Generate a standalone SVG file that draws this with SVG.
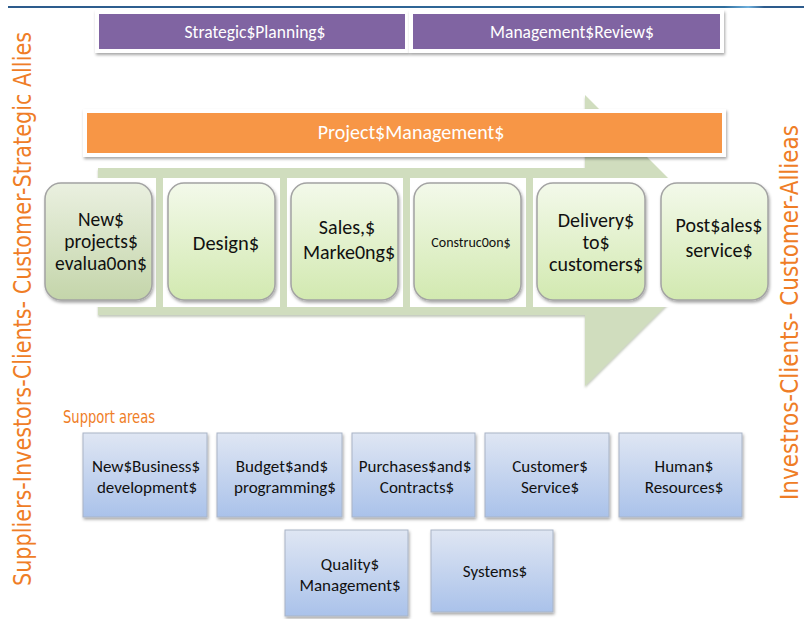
<svg xmlns="http://www.w3.org/2000/svg" width="804" height="619" viewBox="0 0 804 619">
  <defs>
    <filter id="shadow" x="-10%" y="-10%" width="120%" height="130%">
      <feDropShadow dx="1" dy="2" stdDeviation="1.5" flood-color="#000" flood-opacity="0.35"/>
    </filter>
    <filter id="softShadow" x="-5%" y="-5%" width="110%" height="115%">
      <feDropShadow dx="0" dy="2" stdDeviation="1.2" flood-color="#7a8a6a" flood-opacity="0.45"/>
    </filter>
    <linearGradient id="gStage" x1="0" y1="0" x2="0" y2="1">
      <stop offset="0" stop-color="#f3f9ea"/>
      <stop offset="1" stop-color="#d2e9b0"/>
    </linearGradient>
    <linearGradient id="gStageDark" x1="0" y1="0" x2="0" y2="1">
      <stop offset="0" stop-color="#eaf0e0"/>
      <stop offset="1" stop-color="#c4d5aa"/>
    </linearGradient>
    <linearGradient id="gSupport" x1="0" y1="0" x2="0" y2="1">
      <stop offset="0" stop-color="#dfe6f3"/>
      <stop offset="1" stop-color="#aac2ea"/>
    </linearGradient>
    <linearGradient id="gTopLine" x1="0" y1="0" x2="1" y2="0">
      <stop offset="0" stop-color="#2d5b8c"/>
      <stop offset="0.9" stop-color="#2f6d9c"/>
      <stop offset="0.93" stop-color="#6fb0dd"/>
      <stop offset="0.95" stop-color="#2d5b8c"/>
      <stop offset="1" stop-color="#2d5b8c"/>
    </linearGradient>
    <style>
      .stage { stroke: #a3a3a3; stroke-width: 1.5; }
      .support { stroke: #a9b4c6; stroke-width: 1; }
      .dark { font-family: Carlito, Lato, "Liberation Sans", sans-serif; fill: #111; text-anchor: middle; }
      .light { font-family: Carlito, Lato, "Liberation Sans", sans-serif; fill: #fff; text-anchor: middle; }
      .side { font-family: "Liberation Sans Narrow", "DejaVu Sans Condensed", "Liberation Sans", sans-serif; fill: #ef7d26; }
    </style>
  </defs>

  <rect width="804" height="619" fill="#fff"/>

  <!-- header rule -->
  <rect x="8" y="6" width="796" height="2" fill="url(#gTopLine)"/>

  <!-- value-chain block arrow -->
  <g id="value-chain-arrow">
    <polygon points="98,168 585,168 585,95 731,241 585,386 585,315 98,315" fill="#d0ddbe" filter="url(#softShadow)"/>
    <!-- white bays behind each stage -->
    <rect x="38" y="178" width="118" height="129" fill="#fff"/>
    <rect x="163" y="178" width="117" height="129" fill="#fff"/>
    <rect x="287" y="178" width="116" height="129" fill="#fff"/>
    <rect x="410" y="178" width="116" height="129" fill="#fff"/>
    <rect x="533" y="178" width="122" height="129" fill="#fff"/>
    <rect x="655" y="178" width="120" height="129" fill="#fff"/>
  </g>

  <!-- governance bars -->
  <g id="strategic-planning">
    <rect x="95" y="10" width="314" height="43" fill="#fff" filter="url(#shadow)"/>
    <rect x="99" y="14" width="306" height="35" fill="#8064a2"/>
    <text class="light" x="255" y="38" font-size="17.5">Strategic$Planning$</text>
  </g>
  <g id="management-review">
    <rect x="409" y="10" width="315" height="43" fill="#fff" filter="url(#shadow)"/>
    <rect x="413" y="14" width="307" height="35" fill="#8064a2"/>
    <text class="light" x="572" y="38" font-size="17.5">Management$Review$</text>
  </g>
  <g id="project-management">
    <rect x="83" y="109" width="643" height="48" fill="#fff" filter="url(#shadow)"/>
    <rect x="87" y="113" width="635" height="40" fill="#f79646"/>
    <text class="light" x="411" y="139" font-size="20">Project$Management$</text>
  </g>

  <!-- process stages -->
  <g id="stage-evaluation">
    <rect class="stage" x="45" y="183" width="107" height="117" rx="16" fill="url(#gStageDark)" filter="url(#shadow)"/>
    <text class="dark" font-size="19.5"><tspan x="101" y="226">New$</tspan><tspan x="101" y="248">projects$</tspan><tspan x="101" y="270">evalua0on$</tspan></text>
  </g>
  <g id="stage-design">
    <rect class="stage" x="168" y="183" width="107" height="117" rx="16" fill="url(#gStage)" filter="url(#shadow)"/>
    <text class="dark" x="226" y="250" font-size="20.5">Design$</text>
  </g>
  <g id="stage-sales">
    <rect class="stage" x="291" y="183" width="107" height="117" rx="16" fill="url(#gStage)" filter="url(#shadow)"/>
    <text class="dark" font-size="20"><tspan x="347" y="234">Sales,$</tspan><tspan x="349" y="259">Marke0ng$</tspan></text>
  </g>
  <g id="stage-construction">
    <rect class="stage" x="414" y="183" width="107" height="117" rx="16" fill="url(#gStage)" filter="url(#shadow)"/>
    <text class="dark" x="471" y="247" font-size="14">Construc0on$</text>
  </g>
  <g id="stage-delivery">
    <rect class="stage" x="537" y="183" width="108" height="117" rx="16" fill="url(#gStage)" filter="url(#shadow)"/>
    <text class="dark" font-size="20"><tspan x="596" y="227">Delivery$</tspan><tspan x="596" y="249">to$</tspan><tspan x="596" y="271">customers$</tspan></text>
  </g>
  <g id="stage-post-sales">
    <rect class="stage" x="661" y="183" width="107" height="117" rx="16" fill="url(#gStage)" filter="url(#shadow)"/>
    <text class="dark" font-size="20"><tspan x="719" y="232">Post$ales$</tspan><tspan x="719" y="257">service$</tspan></text>
  </g>

  <!-- stakeholders along the sides -->
  <text class="side" font-size="24" transform="translate(31,586) rotate(-90)" textLength="554" lengthAdjust="spacingAndGlyphs">Suppliers-Investors-Clients- Customer-Strategic Allies</text>
  <text class="side" font-size="24" transform="translate(798,500) rotate(-90)" textLength="375" lengthAdjust="spacingAndGlyphs">Investros-Clients- Customer-Allieas</text>

  <text class="side" x="63" y="423" font-size="18" textLength="92" lengthAdjust="spacingAndGlyphs">Support areas</text>

  <!-- support areas -->
  <g id="support-business-development">
    <rect class="support" x="83" y="433" width="124" height="84" fill="url(#gSupport)" filter="url(#shadow)"/>
    <text class="dark" font-size="17"><tspan x="146" y="472">New$Business$</tspan><tspan x="147" y="493">development$</tspan></text>
  </g>
  <g id="support-budget">
    <rect class="support" x="217" y="433" width="125" height="84" fill="url(#gSupport)" filter="url(#shadow)"/>
    <text class="dark" font-size="17"><tspan x="282" y="472">Budget$and$</tspan><tspan x="285" y="493">programming$</tspan></text>
  </g>
  <g id="support-purchases">
    <rect class="support" x="352" y="433" width="123" height="84" fill="url(#gSupport)" filter="url(#shadow)"/>
    <text class="dark" font-size="17"><tspan x="415" y="472">Purchases$and$</tspan><tspan x="417" y="493">Contracts$</tspan></text>
  </g>
  <g id="support-customer-service">
    <rect class="support" x="485" y="433" width="124" height="84" fill="url(#gSupport)" filter="url(#shadow)"/>
    <text class="dark" font-size="17"><tspan x="550" y="472">Customer$</tspan><tspan x="550" y="493">Service$</tspan></text>
  </g>
  <g id="support-human-resources">
    <rect class="support" x="619" y="433" width="123" height="84" fill="url(#gSupport)" filter="url(#shadow)"/>
    <text class="dark" font-size="17"><tspan x="684" y="472">Human$</tspan><tspan x="684" y="493">Resources$</tspan></text>
  </g>
  <g id="support-quality">
    <rect class="support" x="285" y="530" width="123" height="86" fill="url(#gSupport)" filter="url(#shadow)"/>
    <text class="dark" font-size="17"><tspan x="350" y="570">Quality$</tspan><tspan x="350" y="591">Management$</tspan></text>
  </g>
  <g id="support-systems">
    <rect class="support" x="431" y="530" width="122" height="82" fill="url(#gSupport)" filter="url(#shadow)"/>
    <text class="dark" x="495" y="577" font-size="17">Systems$</text>
  </g>
</svg>
